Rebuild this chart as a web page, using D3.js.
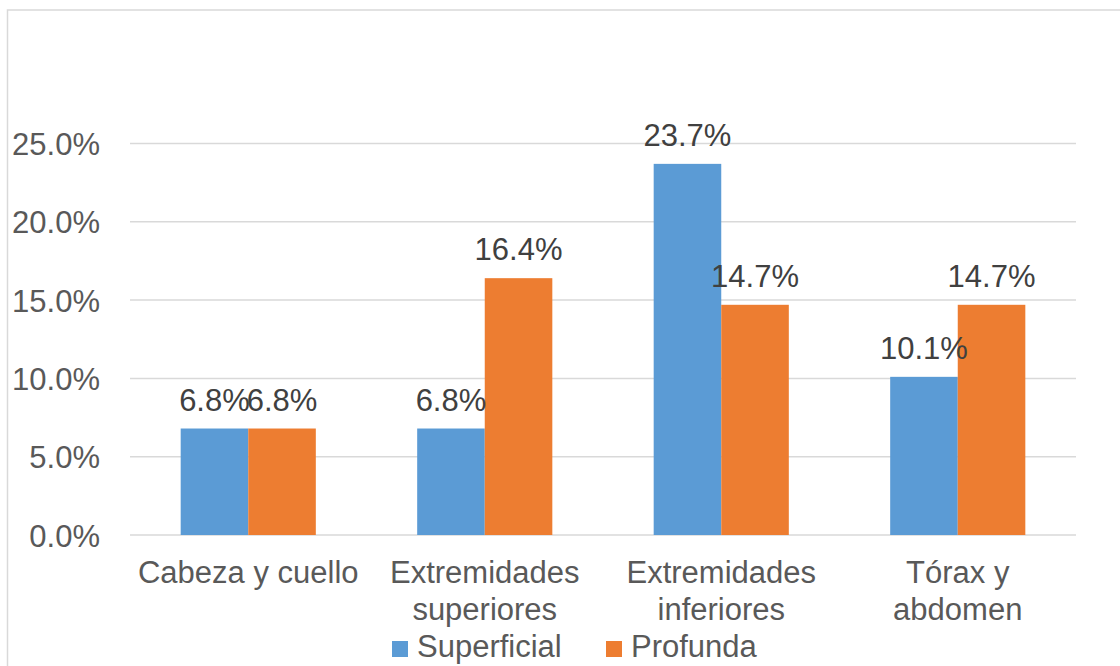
<!DOCTYPE html>
<html><head><meta charset="utf-8">
<script src="https://cdn.jsdelivr.net/npm/d3@7"></script>
<style>
html,body{margin:0;padding:0;background:#fff;}
svg{display:block;font-family:"Liberation Sans",Arial,sans-serif;}
</style></head>
<body>
<svg id="chart" width="1120" height="666"></svg>
<script>
const categories = ["Cabeza y cuello", "Extremidades superiores", "Extremidades inferiores", "Tórax y abdomen"];
const categoryLines = [["Cabeza y cuello"], ["Extremidades", "superiores"], ["Extremidades", "inferiores"], ["Tórax y", "abdomen"]];
const seriesNames = ["Superficial", "Profunda"];
const superficial = [0.068, 0.068, 0.237, 0.101];
const profunda = [0.068, 0.164, 0.147, 0.147];
const yTicks = [0, 0.05, 0.10, 0.15, 0.20, 0.25];
const colors = ["#5B9BD5", "#ED7D31"];

(function () {
const svg = d3.select("#chart");
const plotL = 130, plotR = 1076, plotT = 143.5, plotB = 535;
const FS = 31;

// chart border
svg.append("rect").attr("x", 7.5).attr("y", 10).attr("width", 1130).attr("height", 700)
  .attr("fill", "none").attr("stroke", "#d9d9d9").attr("stroke-width", 1.5);

const x0 = d3.scaleBand().domain(categories).range([plotL, plotR]).paddingInner(0).paddingOuter(0);
const barW = x0.bandwidth() / 3.5;
const x1 = d3.scaleBand().domain(seriesNames).range([0, barW * 2]);
const y = d3.scaleLinear().domain([0, 0.25]).range([plotB, plotT]);

// gridlines
svg.append("g").selectAll("line").data(yTicks).join("line")
  .attr("x1", plotL).attr("x2", plotR)
  .attr("y1", d => y(d)).attr("y2", d => y(d))
  .attr("stroke", "#d9d9d9").attr("stroke-width", 1.5);

// y axis labels
const yAxis = d3.axisLeft(y).tickValues(yTicks).tickFormat(d3.format(".1%")).tickSize(0).tickPadding(0);
const ya = svg.append("g").attr("transform", `translate(100,0)`).call(yAxis);
ya.select(".domain").remove();
ya.selectAll("text").attr("font-size", FS).attr("fill", "#595959")
  .attr("font-family", "'Liberation Sans', Arial, sans-serif").attr("dy", "0.36em");

const data = [superficial, profunda];
const barX = (c, s) => x0(c) + (x0.bandwidth() - barW * 2) / 2 + x1(s);

seriesNames.forEach((s, si) => {
  const vals = data[si];
  svg.append("g").attr("fill", colors[si]).selectAll("rect").data(categories).join("rect")
    .attr("x", c => barX(c, s))
    .attr("width", barW)
    .attr("y", (c, i) => y(vals[i]))
    .attr("height", (c, i) => y(0) - y(vals[i]));
});

seriesNames.forEach((s, si) => {
  const vals = data[si];
  svg.append("g").selectAll("text").data(categories).join("text")
    .attr("x", c => barX(c, s) + barW / 2)
    .attr("y", (c, i) => y(vals[i]) - 18)
    .attr("text-anchor", "middle")
    .attr("font-size", FS).attr("fill", "#404040")
    .text((c, i) => d3.format(".1%")(vals[i]));
});

// category labels
const cl = svg.append("g").selectAll("text").data(categories).join("text")
  .attr("text-anchor", "middle").attr("font-size", FS).attr("fill", "#595959");
cl.each(function(c, i) {
  const t = d3.select(this);
  categoryLines[i].forEach((line, li) => {
    t.append("tspan").attr("x", x0(c) + x0.bandwidth() / 2).attr("y", 583 + li * 37).text(line);
  });
});

// legend
const legendX = [392, 606];
const lg = svg.append("g").selectAll("g").data(seriesNames).join("g")
  .attr("transform", (d, i) => `translate(${legendX[i]},0)`);
lg.append("rect").attr("x", 0).attr("y", 641).attr("width", 16).attr("height", 16)
  .attr("fill", (d, i) => colors[i]);
lg.append("text").attr("x", 25).attr("y", 657).attr("font-size", FS).attr("fill", "#595959").text(d => d);
})();
</script>
</body></html>
